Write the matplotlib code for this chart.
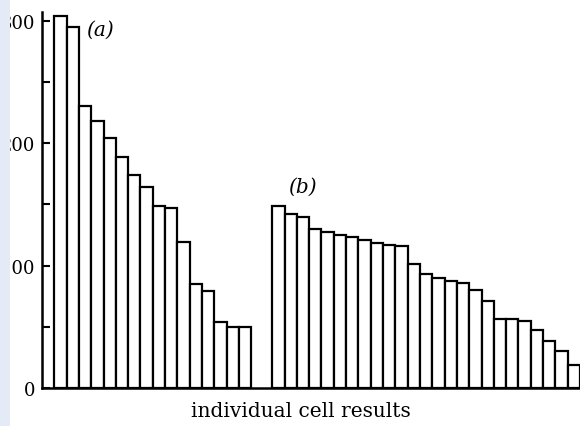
import matplotlib
matplotlib.use('Agg')
import matplotlib.pyplot as plt
from matplotlib.patches import Rectangle

# bar heights (y axis 0..300)
cells_a = [304, 295, 230, 218, 204, 189, 174, 164, 149, 147, 119, 85, 79, 54, 50, 50]
cells_b = [149, 142, 140, 130, 127, 125, 123, 121, 118, 117, 116, 101, 93,
           90, 87, 86, 80, 71, 56, 56, 55, 47, 38, 30, 19]
y_ticks = [0, 100, 200, 300]
y_tick_labels = ['0', '100', '200', '300']
y_minor = [50, 150, 250]
x_label = 'individual cell results'
label_a = '(a)'
label_b = '(b)'

plt.rcParams['font.family'] = ['DejaVu Serif']

fig = plt.figure(figsize=(5.8, 4.27), dpi=100)
ax = fig.add_axes([42 / 580, 38 / 427, 1 - 42 / 580, 376 / 427])

start_a = 1.0
start_b = start_a + len(cells_a) + 1.7
xa = [start_a + i for i in range(len(cells_a))]
xb = [start_b + i for i in range(len(cells_b))]

ax.bar(xa, cells_a, width=1.0, align='edge', color='white',
       edgecolor='black', linewidth=1.6)
ax.bar(xb, cells_b, width=1.0, align='edge', color='white',
       edgecolor='black', linewidth=1.6)

ax.set_xlim(0, start_b + len(cells_b))
ax.set_ylim(0, 307)

ax.set_yticks(y_ticks)
ax.set_yticklabels(y_tick_labels, fontsize=13)
ax.set_yticks(y_minor, minor=True)
ax.tick_params(axis='y', which='both', direction='in', length=6, width=1.5, pad=5)
ax.set_xticks([])

for side in ['top', 'right']:
    ax.spines[side].set_visible(False)
for side in ['left', 'bottom']:
    ax.spines[side].set_linewidth(1.8)

ax.set_xlabel(x_label, fontsize=14.5)
ax.xaxis.set_label_coords(0.482, -0.035, transform=ax.transAxes)
ax.xaxis.label.set_va('top')

ax.text(start_a + 2.6, 293, label_a, fontsize=14.5, style='italic', va='center')
ax.text(start_b + 1.3, 165, label_b, fontsize=14.5, style='italic', va='center')

# pale strip along the left edge of the scan
fig.add_artist(Rectangle((0, 0), 10 / 580, 1, transform=fig.transFigure,
                         facecolor='#e4ebf6', edgecolor='none', zorder=10))

fig.savefig('out.png', dpi=100)
